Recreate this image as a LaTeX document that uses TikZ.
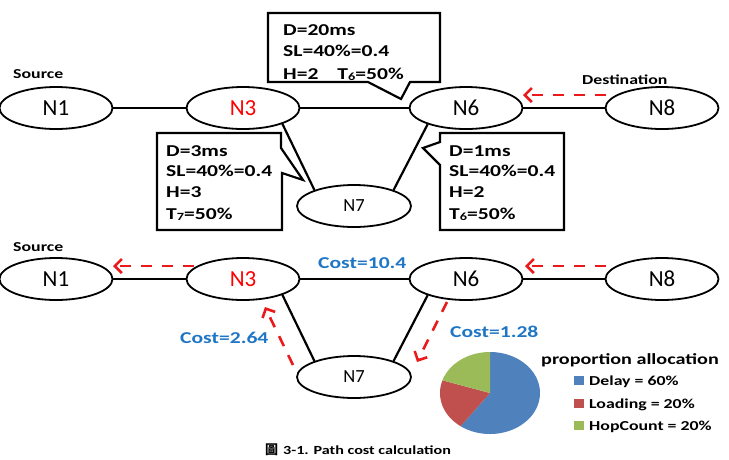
\documentclass[tikz,border=0pt]{standalone}
\usepackage{fontspec}
\setmainfont{Carlito}
\newfontfamily\widefont{Carlito}[FakeStretch=1.3]
\newfontfamily\cjkfont{Noto Sans CJK TC}
\usetikzlibrary{shapes.geometric,arrows.meta}
\definecolor{costblue}{RGB}{30,118,196}
\definecolor{pieblue}{RGB}{79,129,189}
\definecolor{piered}{RGB}{192,80,77}
\definecolor{piegreen}{RGB}{155,187,89}
\definecolor{arrred}{RGB}{235,25,25}
\newcommand{\smallsub}[1]{\raisebox{-1pt}{\fontsize{11}{11}\selectfont #1}}
\begin{document}
\begin{tikzpicture}[x=1pt,y=-1pt,
  nd/.style={ellipse, draw, line width=1.8pt, minimum width=113pt, minimum height=42pt, inner sep=0pt, font=\fontsize{23}{23}\selectfont},
  smallnd/.style={nd, minimum width=114pt, font=\fontsize{18.5}{18.5}\selectfont},
  link/.style={line width=2.2pt},
  redarr/.style={draw=arrred, line width=2.6pt, dash pattern=on 11pt off 10pt, -{Straight Barb[length=7pt,width=14pt]}},
  callout/.style={draw, line width=2.2pt, line join=miter},
  ctext/.style={anchor=base west, inner sep=0pt, font=\widefont\bfseries\fontsize{16.6}{16.6}\selectfont},
  lbl/.style={anchor=base west, inner sep=0pt, font=\widefont\bfseries\fontsize{13.7}{13.7}\selectfont},
  cost/.style={anchor=base west, inner sep=0pt, text=costblue, font=\widefont\bfseries\fontsize{16.6}{16.6}\selectfont},
  legtitle/.style={anchor=base west, inner sep=0pt, font=\widefont\bfseries\fontsize{15.5}{15.5}\selectfont},
  legitem/.style={anchor=base west, inner sep=0pt, font=\widefont\bfseries\fontsize{13.7}{13.7}\selectfont},
  captext/.style={anchor=base west, inner sep=0pt, font=\widefont\bfseries\fontsize{12.4}{12.4}\selectfont}
]
\useasboundingbox (0,0) rectangle (729,459);

% ---------- upper diagram ----------
\node[nd] (N1) at (56,108) {N1};
\node[nd, text=red] (N3) at (243,108) {N3};
\node[nd] (N6) at (466,108) {N6};
\node[nd] (N8) at (662,108) {N8};
\node[smallnd] (N7) at (354,206) {N7};

\draw[link] (N1) -- (N3);
\draw[link] (N3) -- (N6);
\draw[link] (N6) -- (N8);
\draw[link] (N3.-22) -- (N7.158);
\draw[link] (N6.-157) -- (N7.22);

\node[lbl] (src1) at (13,78) {Source};
\node[lbl] (dst) at (582,84) {Destination};

\coordinate (a0s) at (606,95);
\coordinate (a0e) at (523,95);
\draw[redarr] (a0s) -- (a0e);

% callout top
\draw[callout] (268,13) -- (440,13) -- (440,82) -- (410,82) -- (401,99) -- (368,82) -- (268,82) -- cycle;
\node[ctext] (t1) at (283,35) {D=20ms};
\node[ctext] (t2) at (283,56) {SL=40\%=0.4};
\node[ctext] (t3) at (283,79) {H=2\hspace{19pt}T\smallsub{6}=50\%};

% callout left
\draw[callout] (157,133) -- (281,133) -- (281,148) -- (303,180) -- (282,173) -- (282,230) -- (157,230) -- cycle;
\node[ctext] (l1) at (166,156) {D=3ms};
\node[ctext] (l2) at (166,176) {SL=40\%=0.4};
\node[ctext] (l3) at (166,197) {H=3};
\node[ctext] (l4) at (166,219) {T\smallsub{7}=50\%};

% callout right
\draw[callout] (440,133) -- (564,133) -- (564,230) -- (440,230) -- (440,165) -- (423,148) -- (440,142) -- cycle;
\node[ctext] (r1) at (449,156) {D=1ms};
\node[ctext] (r2) at (449,176) {SL=40\%=0.4};
\node[ctext] (r3) at (449,197) {H=2};
\node[ctext] (r4) at (449,219) {T\smallsub{6}=50\%};

% ---------- lower diagram ----------
\node[nd] (M1) at (56,279) {N1};
\node[nd, text=red] (M3) at (243,279) {N3};
\node[nd] (M6) at (466,279) {N6};
\node[nd] (M8) at (662,279) {N8};
\node[smallnd] (M7) at (354,377) {N7};

\draw[link] (M1) -- (M3);
\draw[link] (M3) -- (M6);
\draw[link] (M6) -- (M8);
\draw[link] (M3.-22) -- (M7.158);
\draw[link] (M6.-157) -- (M7.22);

\node[lbl] (src2) at (13,251) {Source};

\coordinate (a1s) at (194,266);
\coordinate (a1e) at (113,266);
\draw[redarr] (a1s) -- (a1e);
\coordinate (a2s) at (606,266);
\coordinate (a2e) at (525,266);
\draw[redarr] (a2s) -- (a2e);
\coordinate (a3s) at (447,302);
\coordinate (a3e) at (417,362);
\draw[redarr] (a3s) -- (a3e);
\coordinate (a4s) at (293,365);
\coordinate (a4e) at (265,307);
\draw[redarr] (a4s) -- (a4e);

\node[cost] (c1) at (318,268) {Cost=10.4};
\node[cost] (c2) at (180,343) {Cost=2.64};
\node[cost] (c3) at (450,337) {Cost=1.28};

% pie chart
\fill[pieblue] (490,393) -- plot[domain=-126:90, samples=90] ({490+50*cos(\x)},{393-41*sin(\x)}) -- cycle;
\fill[piered] (490,393) -- plot[domain=162:234, samples=40] ({490+50*cos(\x)},{393-41*sin(\x)}) -- cycle;
\fill[piegreen] (490,393) -- plot[domain=90:162, samples=40] ({490+50*cos(\x)},{393-41*sin(\x)}) -- cycle;

% legend
\node[legtitle] (lt) at (541,364) {proportion allocation};
\fill[pieblue] (574,376) rectangle (584,385);
\node[legitem] (lg1) at (589,385) {Delay = 60\%};
\fill[piered] (574,399) rectangle (584,408);
\node[legitem] (lg2) at (589,408) {Loading = 20\%};
\fill[piegreen] (574,421) rectangle (584,430);
\node[legitem] (lg3) at (589,430) {HopCount = 20\%};

% caption
\node[captext] (cap) at (265,454) {{\cjkfont\bfseries\fontsize{13}{13}\selectfont 圖}\hspace{5pt}3-1. Path cost calculation};
\end{tikzpicture}
\end{document}
